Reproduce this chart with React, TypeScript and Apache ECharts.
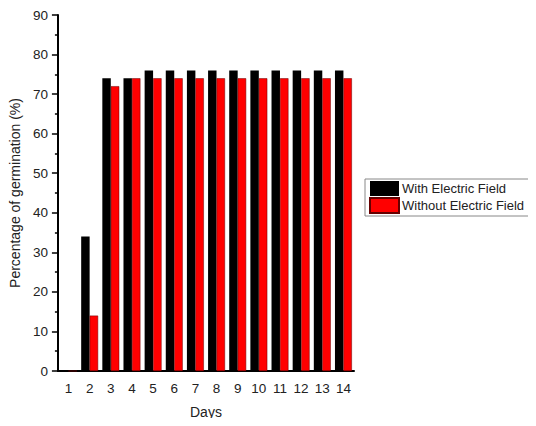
import React, { useEffect, useRef } from "react";
import * as echarts from "echarts";

const days = ["1", "2", "3", "4", "5", "6", "7", "8", "9", "10", "11", "12", "13", "14"];
const withField = [0, 34, 74, 74, 76, 76, 76, 76, 76, 76, 76, 76, 76, 76];
const withoutField = [0, 14, 72, 74, 74, 74, 74, 74, 74, 74, 74, 74, 74, 74];
const yTicks = { min: 0, max: 90, interval: 10 };

export default function App() {
  const ref = useRef<HTMLDivElement>(null);
  useEffect(() => {
    const chart = echarts.init(ref.current!, null, { renderer: "svg" });
    const font = "'Liberation Sans', Arial, sans-serif";
    chart.setOption({
      animation: false,
      backgroundColor: "#fff",
      textStyle: { fontFamily: font },
      grid: { left: 57, right: 182, top: 15, bottom: 55 },
      legend: {
        orient: "vertical",
        left: 365,
        top: 179,
        itemWidth: 29,
        itemHeight: 15,
        itemGap: 1,
        padding: [2, 6, 2, 4],
        borderColor: "#888",
        borderWidth: 1,
        icon: "rect",
        textStyle: { fontFamily: font, fontSize: 13, lineHeight: 15, color: "#222", padding: [0, 0, 0, -2] },
        data: ["With Electric Field", "Without Electric Field"],
      },
      xAxis: [
        {
          type: "category",
          data: days,
          name: "Days",
          nameLocation: "middle",
          nameGap: 33,
          nameTextStyle: { fontFamily: font, fontSize: 14, color: "#222", lineHeight: 16 },
          axisLine: { lineStyle: { color: "#000", width: 2 } },
          axisTick: { alignWithLabel: true, length: 6, lineStyle: { color: "#000", width: 1.5 } },
          axisLabel: { fontFamily: font, fontSize: 13.5, color: "#222", margin: 10, interval: 0 },
        },
        {
          type: "category",
          data: days,
          position: "bottom",
          axisLine: { show: false },
          axisTick: { alignWithLabel: false, length: 3, interval: 0, lineStyle: { color: "#000", width: 1.5 } },
          axisLabel: { show: false },
        },
      ],
      yAxis: {
        type: "value",
        min: yTicks.min,
        max: yTicks.max,
        interval: yTicks.interval,
        name: "Percentage of germination (%)",
        nameLocation: "middle",
        nameGap: 31,
        nameTextStyle: { fontFamily: font, fontSize: 14, color: "#222" },
        axisLine: { show: true, lineStyle: { color: "#000", width: 2 } },
        axisTick: { show: true, length: 6, lineStyle: { color: "#000", width: 1.5 } },
        minorTick: { show: true, splitNumber: 2, length: 3, lineStyle: { color: "#000", width: 1.5 } },
        splitLine: { show: false },
        axisLabel: { fontFamily: font, fontSize: 13.5, color: "#222", margin: 10 },
      },
      series: [
        {
          name: "With Electric Field",
          type: "bar",
          data: withField,
          barWidth: "40%",
          barGap: "0%",
          itemStyle: { color: "#000" },
        },
        {
          name: "Without Electric Field",
          type: "bar",
          data: withoutField,
          barWidth: "40%",
          barGap: "0%",
          itemStyle: { color: "#f00", borderColor: "#600", borderWidth: 0.5 },
        },
      ],
    });
    return () => chart.dispose();
  }, []);
  return <div ref={ref} style={{ width: 536, height: 426, margin: -8 }} />;
}
